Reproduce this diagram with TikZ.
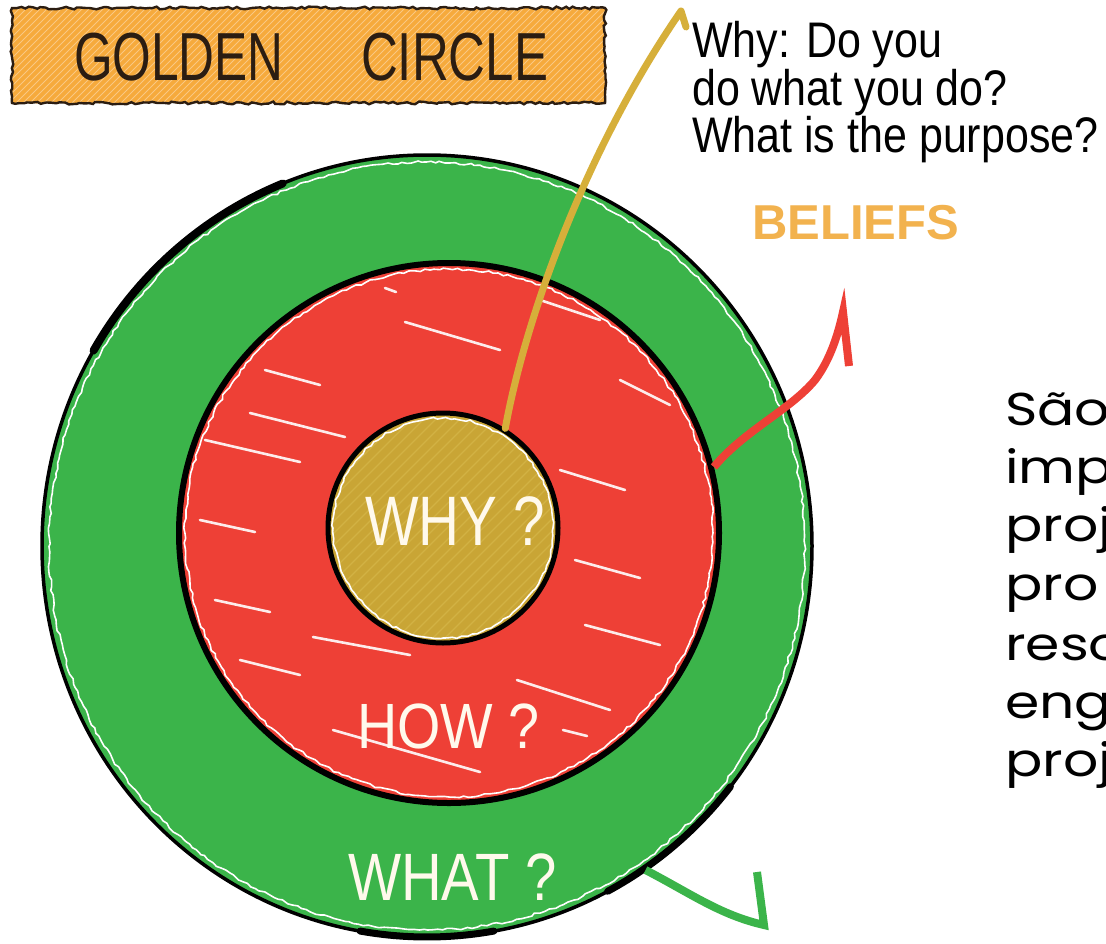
\documentclass[tikz,border=0pt]{standalone}
\usepackage{fontspec}
\setmainfont{Liberation Sans}
\newfontfamily\roundfont{Poppins}
\usetikzlibrary{shapes.geometric,decorations.pathmorphing}
\definecolor{gcgreen}{HTML}{3BB44A}
\definecolor{gcred}{HTML}{EE4036}
\definecolor{gcgold}{HTML}{C9A535}
\definecolor{gcgoldlt}{HTML}{DEC257}
\definecolor{gcline}{HTML}{D6AF3A}
\definecolor{gcbox}{HTML}{F6AA3C}
\definecolor{gcboxlt}{HTML}{FAC882}
\definecolor{gcbelief}{HTML}{F2B24E}
\definecolor{gcbrown}{HTML}{2B1D12}
\definecolor{gccream}{HTML}{FFF9EC}
\begin{document}
\begin{tikzpicture}[x=1pt,y=-1pt,
  ringnode/.style={circle,inner sep=0pt,draw=black},
  halo/.style={white,line width=1.6pt,decorate,decoration={random steps,segment length=5pt,amplitude=1.2pt}},
  streak/.style={white,line width=2.6pt,line cap=round,opacity=0.9},
  titletext/.style={font=\fontsize{68}{68}\selectfont,text=gcbrown,anchor=base west,inner sep=0pt},
  whytext/.style={font=\fontsize{50}{50}\selectfont,text=black,anchor=base west,inner sep=0pt,xscale=0.86},
  ringlabel/.style={text=gccream,anchor=base west,inner sep=0pt},
  sidetext/.style={font=\roundfont\fontsize{46}{46}\selectfont,text=black,anchor=base west,inner sep=0pt,xscale=1.2},
  yline/.style={gcline,line width=7pt,line cap=round,line join=round},
  rline/.style={gcred,line width=8pt,line join=miter},
  gline/.style={gcgreen,line width=8pt,line join=miter}]
\useasboundingbox (0,0) rectangle (1106,943);
\fill[white] (0,0) rectangle (1106,943);

% ---------- title box ----------
\begin{scope}
\clip (12,8) rectangle (605,103);
\fill[gcbox] (12,8) rectangle (605,103);
\foreach \i in {0,7,...,720}{
  \draw[gcboxlt,line width=1pt] (\i-110,110) -- (\i,0);
}
\end{scope}
\draw[gcbrown,line width=2.4pt,decorate,decoration={random steps,segment length=4pt,amplitude=1.4pt}]
  (12,8) rectangle (605,103);
\node[titletext,xscale=0.73] (tgolden) at (74,80) {GOLDEN};
\node[titletext,xscale=0.75] (tcircle) at (361,80) {CIRCLE};

% ---------- outer ring (WHAT) ----------
\node[ringnode,ellipse,fill=gcgreen,minimum width=770pt,minimum height=782pt,line width=3.5pt] (whatring) at (427,546) {};
\draw[halo] (427,546) ellipse [x radius=378pt, y radius=384pt];
\draw[black,line width=8pt,line cap=round] plot[domain=112:150,samples=30] ({427+385*cos(\x)},{546-391*sin(\x)});
\draw[black,line width=7pt,line cap=round] plot[domain=-62:-38,samples=30] ({427+385*cos(\x)},{546-391*sin(\x)});
\draw[black,line width=7pt,line cap=round] plot[domain=-100:-80,samples=30] ({427+385*cos(\x)},{546-391*sin(\x)});

% ---------- middle ring (HOW) ----------
\node[ringnode,fill=gcred,minimum size=540pt,line width=6pt] (howring) at (449,533) {};
\draw[halo] (449,533) circle [radius=264pt];
\foreach \a/\b/\c/\d in {265/370/320/385, 205/440/300/462, 250/413/345/437, 405/322/500/350,
  385/288/396/292, 560/470/625/490, 575/560/640/578, 585/625/660/645, 215/600/270/612,
  240/660/300/675, 313/637/410/655, 333/730/480/772, 517/680/610/710, 563/730/587/736,
  540/300/600/320, 620/380/670/405, 200/520/255/532}{
  \draw[streak] (\a,\b) -- (\c,\d);
}

% ---------- inner circle (WHY) ----------
\node[ringnode,fill=gcgold,minimum size=230pt,line width=5pt] (whyring) at (443,528) {};
\begin{scope}
\clip (443,528) circle [radius=110pt];
\foreach \i in {-260,-248,...,260}{
  \draw[gcgoldlt,line width=1.3pt,opacity=0.45] (443+\i-130,528+130) -- (443+\i+130,528-130);
}
\end{scope}
\draw[halo] (443,528) circle [radius=110pt];

% ---------- ring labels ----------
\node[ringlabel,font=\fontsize{70}{70}\selectfont,xscale=0.81] (lwhy) at (365,545) {WHY ?};
\node[ringlabel,font=\fontsize{64}{64}\selectfont,xscale=0.87] (lhow) at (357,748) {HOW ?};
\node[ringlabel,font=\fontsize{67}{67}\selectfont,xscale=0.84] (lwhat) at (348,900) {WHAT ?};

% ---------- connectors ----------
\coordinate (ytop) at (681,11);
\coordinate (yhook) at (686,27);
\draw[yline] (whyring.58) .. controls (525,320) and (585,150) .. (ytop) -- (yhook);

\coordinate (rtip) at (843,312);
\coordinate (rbarb) at (849,366);
\draw[rline] (howring.14) .. controls (745,430) and (790,410) .. (815,380)
  .. controls (830,360) and (838,335) .. (rtip) -- (rbarb);

\coordinate (gtip) at (764,925);
\coordinate (gbarb) at (757,872);
\draw[gline] (whatring.-56) .. controls (690,893) and (720,915) .. (gtip) -- (gbarb);

% ---------- annotation texts ----------
\node[whytext] (why1) at (692,57) {Why: Do you};
\node[whytext] (why2) at (692,105) {do what you do?};
\node[whytext] (why3) at (692,152) {What is the purpose?};
\node[font=\bfseries\fontsize{49}{49}\selectfont,text=gcbelief,anchor=base west,inner sep=0pt] (beliefs) at (752,239) {BELIEFS};

\node[sidetext] (s1) at (1005,425) {São};
\node[sidetext] (s2) at (1005,483) {imp};
\node[sidetext] (s3) at (1005,541) {proj};
\node[sidetext] (s4) at (1005,600) {pro};
\node[sidetext] (s5) at (1005,660) {reso};
\node[sidetext] (s6) at (1005,718) {eng};
\node[sidetext] (s7) at (1005,776) {proj};
\end{tikzpicture}
\end{document}
